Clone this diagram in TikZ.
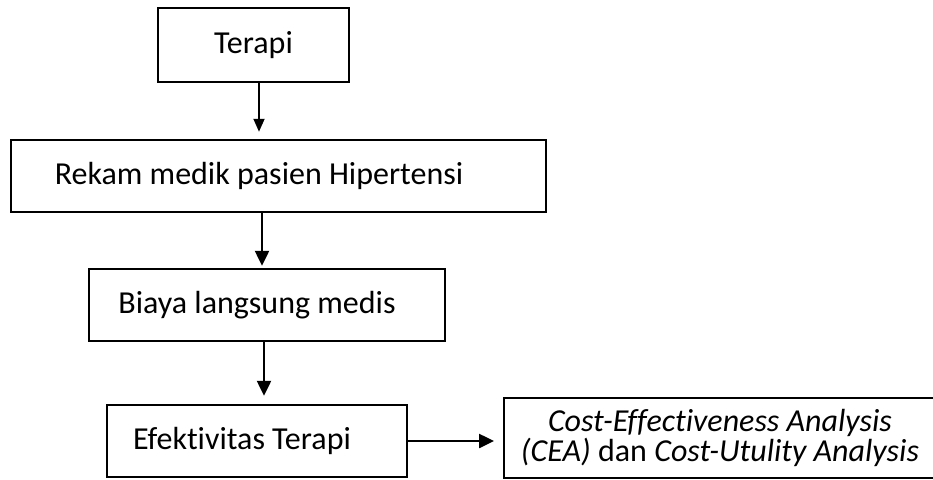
\documentclass[tikz,border=0pt]{standalone}
\usepackage{fontspec}
\setmainfont{Carlito}[Ligatures=NoCommon]
\usetikzlibrary{arrows.meta}

\begin{document}
\begin{tikzpicture}[x=1pt, y=-1pt,
  box/.style={draw, line width=2.5pt, inner sep=0pt},
  txt/.style={font=\fontsize{32}{30}\selectfont, inner sep=0pt, align=center},
  arr/.style={line width=2.5pt, -{Triangle[width=14pt,length=15pt]}}]
  \useasboundingbox (0,0) rectangle (933,479);
  \clip (0,0) rectangle (933,479);

  \node[box, minimum width=191pt, minimum height=74pt, label={[txt]center:Terapi}] (terapi) at (253.5,45) {};
  \node[box, minimum width=535pt, minimum height=72pt, label={[txt, xshift=-19.5pt]center:Rekam medik pasien Hipertensi}] (rekam) at (278.5,176) {};
  \node[box, minimum width=356pt, minimum height=72pt, label={[txt, xshift=-10pt]center:Biaya langsung medis}] (biaya) at (267,305) {};
  \node[box, minimum width=300pt, minimum height=72pt, label={[txt, xshift=-15pt]center:Efektivitas Terapi}] (efek) at (257,441) {};
  % last box runs past the right edge
  \node[box, line width=2pt, minimum width=512pt, minimum height=80pt,
        label={[txt, xshift=-40pt]center:\textit{Cost-Effectiveness Analysis}\\\textit{(CEA)} dan \textit{Cost-Utulity Analysis}}] (cea) at (760,438) {};

  \draw[line width=1.8pt, -{Triangle[width=11pt,length=13pt]}, shorten >=7pt] ([xshift=5.5pt]terapi.south) -- ([xshift=5.5pt]terapi.south |- rekam.north);
  \draw[arr, shorten >=2pt] ([xshift=-16.5pt]rekam.south) -- ([xshift=-16.5pt]rekam.south |- biaya.north);
  \draw[arr, shorten >=8pt] ([xshift=-3pt]biaya.south) -- ([xshift=-3pt]biaya.south |- efek.north);
  \draw[arr, shorten >=9pt] (efek.east) -- (efek.east -| cea.west);
\end{tikzpicture}
\end{document}
